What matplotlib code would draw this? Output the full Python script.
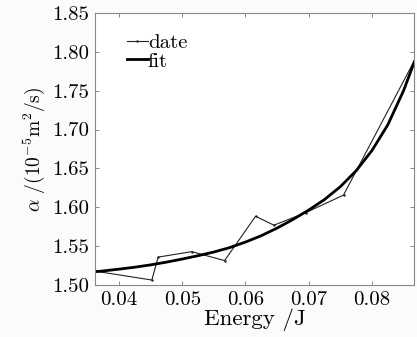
import matplotlib
matplotlib.use("Agg")
import matplotlib.pyplot as plt

# measured data (Energy in J, alpha in 1e-5 m^2/s)
energy_data = [0.0362, 0.0452, 0.0462, 0.0515, 0.0567, 0.0616, 0.0645, 0.0695, 0.0755, 0.0866]
alpha_data = [1.518, 1.5065, 1.536, 1.543, 1.5315, 1.5885, 1.577, 1.593, 1.6157, 1.787]

# fitted curve
energy_fit = [0.0362, 0.0375, 0.0400, 0.0425, 0.0450, 0.0475, 0.0500, 0.0525,
              0.0550, 0.0575, 0.0600, 0.0625, 0.0650, 0.0675, 0.0700, 0.0725,
              0.0750, 0.0775, 0.0800, 0.0825, 0.0850, 0.0867]
alpha_fit = [1.5172, 1.5182, 1.5205, 1.5230, 1.5260, 1.5295, 1.5335, 1.5378,
             1.5425, 1.5482, 1.5553, 1.5635, 1.5733, 1.5843, 1.5965, 1.6100,
             1.6265, 1.6470, 1.6730, 1.7060, 1.7500, 1.7870]

x_ticks = [0.04, 0.05, 0.06, 0.07, 0.08]
y_ticks = [1.50, 1.55, 1.60, 1.65, 1.70, 1.75, 1.80, 1.85]

plt.rcParams['font.family'] = ['cmr10', 'DejaVu Serif']
plt.rcParams['mathtext.fontset'] = 'cm'
plt.rcParams['axes.formatter.use_mathtext'] = True

fig = plt.figure(figsize=(4.17, 3.37), dpi=100)
fig.patch.set_facecolor('#fbfbfb')
ax = fig.add_axes([0.227, 0.154, 0.7665, 0.808])
ax.set_facecolor('white')

ax.plot(energy_data, alpha_data, color='#222222', lw=0.8, marker='.', ms=1.5, label='date')
ax.plot(energy_fit, alpha_fit, color='black', lw=2.0, solid_joinstyle='round', label='fit')

ax.set_xlim(0.03616, 0.08669)
ax.set_ylim(1.50, 1.85)
ax.set_xticks(x_ticks)
ax.set_xticklabels([f"{v:.2f}" for v in x_ticks])
ax.set_yticks(y_ticks)
ax.set_yticklabels([f"{v:.2f}" for v in y_ticks])

ax.tick_params(direction='in', top=True, right=True, length=3, width=0.6,
               color='#777777', labelsize=15, pad=4)
for s in ax.spines.values():
    s.set_color('#888888')
    s.set_linewidth(0.8)

ax.set_xlabel('Energy /J', fontsize=16.5, labelpad=0)
ax.set_ylabel(r'$\alpha$ /(10$^{-5}$m$^{2}$/s)', fontsize=14, labelpad=4)

leg = ax.legend(loc='upper left', bbox_to_anchor=(0.075, 0.955), frameon=False,
                fontsize=15, handlelength=1.0, handletextpad=0.0,
                labelspacing=0.0, borderaxespad=0)

fig.savefig('out.png', dpi=100, facecolor=fig.get_facecolor())
